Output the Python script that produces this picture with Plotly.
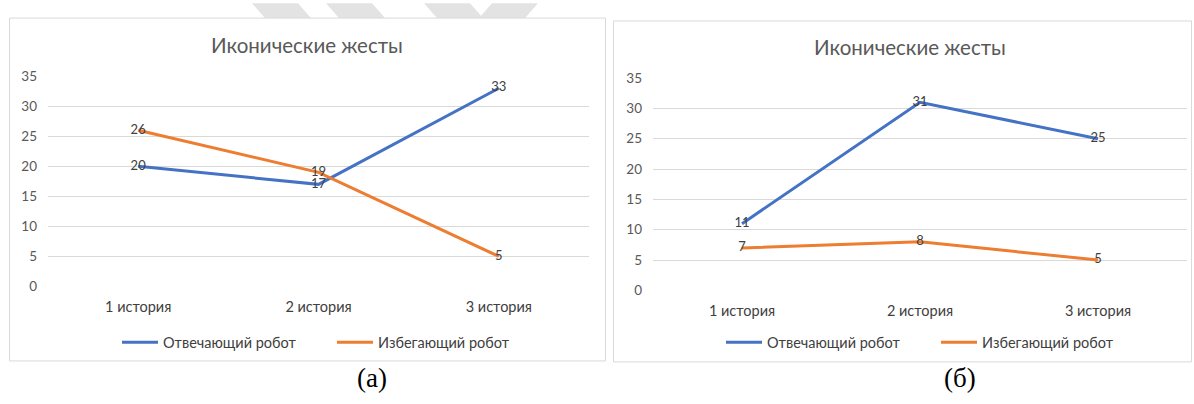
import plotly.graph_objects as go

W, H = 1194, 404

# Data
categories = ["1 история", "2 история", "3 история"]
series_names = ["Отвечающий робот", "Избегающий робот"]
panel_a_answering = [20, 17, 33]
panel_a_avoiding = [26, 19, 5]
panel_b_answering = [11, 31, 25]
panel_b_avoiding = [7, 8, 5]
y_ticks = [0, 5, 10, 15, 20, 25, 30, 35]
chart_title = "Иконические жесты"
captions = ["(а)", "(б)"]

BLUE = "#4472C4"
ORANGE = "#ED7D31"
GRID = "#D9D9D9"
FONT = "Lato"


def px(x):
    return x / W


def py(y):
    return 1 - y / H


fig = go.Figure()

panels = [
    dict(series=[panel_a_answering, panel_a_avoiding], xa="x", ya="y", legend="legend"),
    dict(series=[panel_b_answering, panel_b_avoiding], xa="x2", ya="y2", legend="legend2"),
]

for p in panels:
    for name, vals, col in zip(series_names, p["series"], [BLUE, ORANGE]):
        fig.add_trace(go.Scatter(
            x=categories, y=vals, name=name,
            mode="lines+text",
            text=[str(v) for v in vals],
            textposition="middle center",
            textfont=dict(family=FONT, size=13, color="#404040"),
            line=dict(color=col, width=3),
            xaxis=p["xa"], yaxis=p["ya"], legend=p["legend"],
            cliponaxis=False, hoverinfo="skip",
        ))

axis_x = dict(type="category", range=[-0.5, 2.5], showgrid=False, zeroline=False,
              showline=False, ticks="",
              tickfont=dict(family=FONT, size=14.5, color="#404040"),
              ticklabelstandoff=10, fixedrange=True)
axis_y = dict(range=[0, 35], tickvals=y_ticks, showgrid=True, gridcolor=GRID,
              gridwidth=1, zeroline=False, showline=False, ticks="",
              tickfont=dict(family=FONT, size=13.5, color="#595959"),
              ticklabelstandoff=10, fixedrange=True)

legend_style = dict(orientation="h", xanchor="left", yanchor="middle",
                    font=dict(family=FONT, size=14.5, color="#404040"),
                    bgcolor="rgba(0,0,0,0)", itemwidth=36, entrywidth=164,
                    itemclick=False)

fig.update_layout(
    width=W, height=H,
    margin=dict(l=0, r=0, t=0, b=0),
    paper_bgcolor="white", plot_bgcolor="rgba(0,0,0,0)",
    showlegend=True,
    xaxis=dict(axis_x, domain=[px(48), px(589)], anchor="y"),
    yaxis=dict(axis_y, domain=[py(290), py(71)], anchor="x"),
    xaxis2=dict(axis_x, domain=[px(653), px(1187)], anchor="y2"),
    yaxis2=dict(axis_y, domain=[py(294), py(73)], anchor="x2"),
    legend=dict(legend_style, x=px(117), y=py(348)),
    legend2=dict(legend_style, x=px(721), y=py(348)),
)

shapes = []
# faint diagonal watermark bands along the top edge
band_color = "#E3E3E3"
for x0 in [252, 326, 424]:
    shapes.append(dict(type="path", xref="paper", yref="paper", layer="below",
                       path=f"M {px(x0)},{py(-5)} L {px(x0+46)},{py(-5)} L {px(x0+62)},{py(14)} L {px(x0+16)},{py(14)} Z",
                       fillcolor=band_color, line=dict(width=0)))
shapes.append(dict(type="path", xref="paper", yref="paper", layer="below",
                   path=f"M {px(492)},{py(-5)} L {px(538)},{py(-5)} L {px(522)},{py(14)} L {px(476)},{py(14)} Z",
                   fillcolor=band_color, line=dict(width=0)))
# chart panels
shapes.append(dict(type="rect", xref="paper", yref="paper", layer="below",
                   x0=px(9.5), x1=px(605.5), y0=py(367.5), y1=py(10.5),
                   fillcolor="white", line=dict(color=GRID, width=1)))
shapes.append(dict(type="rect", xref="paper", yref="paper", layer="below",
                   x0=px(613.5), x1=px(1191.5), y0=py(368.5), y1=py(13.5),
                   fillcolor="white", line=dict(color=GRID, width=1)))
fig.update_layout(shapes=shapes)

annotations = [
    dict(text=chart_title, x=px(307), y=py(39), xref="paper", yref="paper",
         showarrow=False, xanchor="center", yanchor="middle",
         font=dict(family=FONT, size=20.5, color="#595959")),
    dict(text=chart_title, x=px(910), y=py(41), xref="paper", yref="paper",
         showarrow=False, xanchor="center", yanchor="middle",
         font=dict(family=FONT, size=20.5, color="#595959")),
    dict(text=captions[0], x=px(372), y=py(385), xref="paper", yref="paper",
         showarrow=False, xanchor="center", yanchor="middle",
         font=dict(family="Liberation Serif", size=27, color="black")),
    dict(text=captions[1], x=px(960), y=py(385), xref="paper", yref="paper",
         showarrow=False, xanchor="center", yanchor="middle",
         font=dict(family="Liberation Serif", size=27, color="black")),
]
fig.update_layout(annotations=annotations)

fig.write_html("out.html", config={"displayModeBar": False})
